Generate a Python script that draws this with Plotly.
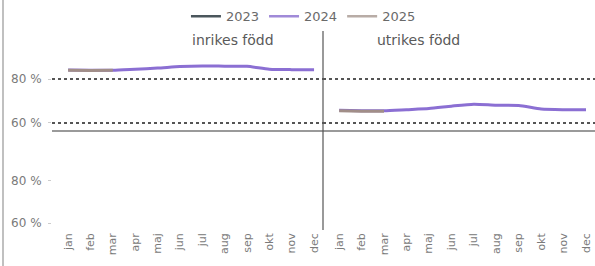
import plotly.graph_objects as go

months = ["jan", "feb", "mar", "apr", "maj", "jun", "jul", "aug", "sep", "okt", "nov", "dec"]
years = ["2023", "2024", "2025"]

inrikes_2023 = [None] * 12
inrikes_2024 = [84.1, 84.0, 84.0, 84.5, 85.0, 85.7, 86.0, 85.9, 85.8, 84.5, 84.3, 84.3]
inrikes_2025 = [84.0, 83.9, 84.0]

utrikes_2023 = [None] * 12
utrikes_2024 = [65.7, 65.5, 65.5, 66.0, 66.5, 67.6, 68.5, 68.0, 67.9, 66.3, 66.0, 66.0]
utrikes_2025 = [65.5, 65.3, 65.3]

panel_titles = ["inrikes född", "utrikes född"]
ytick_vals = [60, 80]
ytick_text = ["60 %", "80 %"]

colors = {"2023": "#4b565c", "2024": "#8b6fd3", "2025": "#a18e88"}
legend_colors = {"2023": "#4b565c", "2024": "#a08ad8", "2025": "#b8aca6"}

W, H = 595, 266
FONT = "DejaVu Sans"

def px_x(p):
    return p / W

def px_y(p):
    return 1 - p / H

fig = go.Figure()

series = [
    ("x", "y", {"2023": inrikes_2023, "2024": inrikes_2024, "2025": inrikes_2025}),
    ("x2", "y2", {"2023": utrikes_2023, "2024": utrikes_2024, "2025": utrikes_2025}),
]
for i, (xa, ya, data) in enumerate(series):
    for yr in years:
        vals = data[yr]
        fig.add_trace(go.Scatter(
            x=months[:len(vals)], y=vals, mode="lines", name=yr,
            xaxis=xa, yaxis=ya,
            line=dict(color=colors[yr], width=3, shape="spline", smoothing=0.6),
            showlegend=False,
        ))

# empty lower panels (keep axes drawn)
for xa, ya in [("x3", "y3"), ("x4", "y4")]:
    fig.add_trace(go.Scatter(x=months, y=[None] * 12, mode="lines", xaxis=xa, yaxis=ya,
                             showlegend=False, hoverinfo="skip"))

# legend-only entries
for yr in years:
    fig.add_trace(go.Scatter(
        x=[None], y=[None], mode="lines", name=yr,
        line=dict(color=legend_colors[yr], width=2.5),
        xaxis="x", yaxis="y", showlegend=True,
    ))

xl = [px_x(52), px_x(323)]
xr = [px_x(323), px_x(595)]
top = [px_y(130), px_y(32)]
bot = [px_y(230), px_y(135)]
xrange = [-0.72, 11.4]
yrange = [56.7, 101.5]

axis_font = dict(family=FONT, size=11, color="#7a7a7a")
ytick_font = dict(family=FONT, size=12, color="#7a7a7a")

common_x = dict(type="category", range=xrange, showgrid=False, zeroline=False,
                categoryorder="array", categoryarray=months)

fig.update_layout(
    width=W, height=H,
    margin=dict(l=0, r=0, t=0, b=0, autoexpand=False),
    paper_bgcolor="white", plot_bgcolor="white",
    font=dict(family=FONT, color="#666666"),
    showlegend=True,
    legend=dict(orientation="h", x=0.51, xanchor="center", y=0.995, yanchor="top",
                font=dict(family=FONT, size=13, color="#6a6a6a"),
                itemwidth=30, tracegroupgap=0, bgcolor="rgba(0,0,0,0)"),
    xaxis=dict(common_x, domain=xl, anchor="y", showticklabels=False, ticks="",
               showline=True, linecolor="#9a9a9a", linewidth=1.5),
    xaxis2=dict(common_x, domain=xr, anchor="y2", showticklabels=False, ticks="",
                showline=True, linecolor="#9a9a9a", linewidth=1.5),
    xaxis3=dict(common_x, domain=xl, anchor="y3", showticklabels=True, ticks="",
                tickangle=-90, tickfont=axis_font, showline=False),
    xaxis4=dict(common_x, domain=xr, anchor="y4", showticklabels=True, ticks="",
                tickangle=-90, tickfont=axis_font, showline=False),
    yaxis=dict(domain=top, anchor="x", range=yrange, tickvals=ytick_vals, ticktext=ytick_text,
               showgrid=True, gridcolor="#555555", griddash="dot", gridwidth=1.5,
               zeroline=False, ticks="outside", ticklen=3, tickcolor="#cccccc",
               ticklabelstandoff=4, tickfont=ytick_font),
    yaxis2=dict(domain=top, anchor="x2", range=yrange, tickvals=ytick_vals,
                showticklabels=False, showgrid=True, gridcolor="#555555", griddash="dot",
                gridwidth=1.5, zeroline=False),
    yaxis3=dict(domain=bot, anchor="x3", range=yrange, tickvals=ytick_vals, ticktext=ytick_text,
                showgrid=False, zeroline=False, ticks="outside", ticklen=3, tickcolor="#cccccc",
                ticklabelstandoff=4, tickfont=ytick_font),
    yaxis4=dict(domain=bot, anchor="x4", range=yrange, tickvals=ytick_vals,
                showticklabels=False, showgrid=False, zeroline=False),
)

fig.add_annotation(text=panel_titles[0], xref="paper", yref="paper",
                   x=px_x(190), y=px_y(40), yanchor="middle", showarrow=False,
                   font=dict(family=FONT, size=14, color="#5a5a5a"))
fig.add_annotation(text=panel_titles[1], xref="paper", yref="paper",
                   x=px_x(462), y=px_y(40), yanchor="middle", showarrow=False,
                   font=dict(family=FONT, size=14, color="#5a5a5a"))

fig.add_shape(type="line", xref="paper", yref="paper",
              x0=px_x(323), x1=px_x(323), y0=px_y(31), y1=px_y(230),
              line=dict(color="#555555", width=1.2))
fig.add_shape(type="line", xref="paper", yref="paper",
              x0=px_x(3), x1=px_x(3), y0=0, y1=1,
              line=dict(color="#c0c0c0", width=2))

fig.write_html("out.html", config={"displayModeBar": False},
               post_script="document.body.style.margin='0px';document.body.style.overflow='hidden';")
